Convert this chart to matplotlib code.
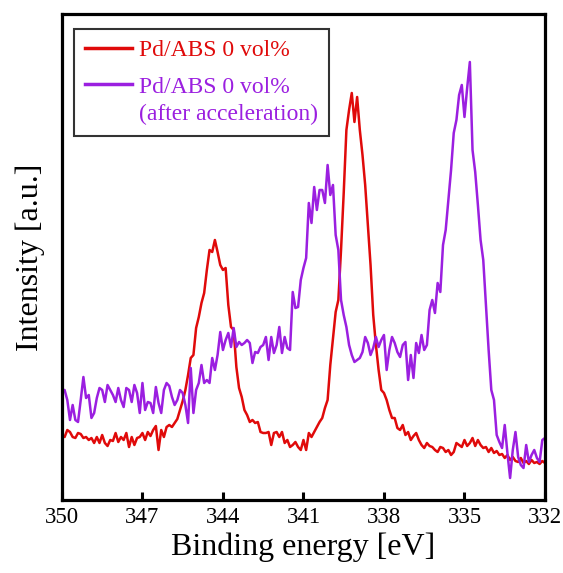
import numpy as np
import matplotlib
matplotlib.use('Agg')
import matplotlib.pyplot as plt
from matplotlib.legend_handler import HandlerLine2D

plt.rcParams['font.family'] = ['Liberation Serif', 'DejaVu Serif']

# binding energy grid, 350 -> 332 eV in 0.1 eV steps
energy = np.round(np.linspace(350.0, 332.0, 181), 2)

# Pd/ABS 0 vol% (arbitrary units)
red_counts = [
    65, 63, 70, 68, 63, 62, 67, 66, 62, 63,
    60, 62, 57, 63, 57, 65, 57, 54, 60, 59,
    67, 58, 63, 60, 67, 53, 63, 55, 62, 63,
    67, 60, 68, 64, 70, 74, 50, 70, 63, 73,
    75, 73, 77, 81, 90, 99, 110, 125, 142, 145,
    172, 183, 197, 207, 230, 250, 248, 260, 248, 235,
    230, 232, 195, 173, 170, 133, 112, 103, 90, 85,
    78, 80, 77, 78, 68, 67, 67, 68, 55, 67,
    68, 63, 68, 57, 60, 53, 55, 58, 53, 50,
    60, 50, 67, 63, 68, 73, 78, 82, 92, 100,
    135, 162, 188, 200, 250, 307, 370, 390, 407, 378,
    403, 370, 345, 315, 275, 235, 185, 155, 130, 110,
    107, 100, 90, 82, 82, 72, 70, 75, 65, 68,
    60, 64, 67, 60, 55, 52, 57, 54, 53, 50,
    48, 53, 52, 48, 50, 45, 48, 57, 55, 53,
    60, 54, 57, 62, 54, 60, 55, 52, 53, 48,
    52, 47, 49, 45, 46, 42, 45, 40, 43, 39,
    38, 42, 37, 39, 36, 40, 37, 38, 36, 39,
    37,
]

# Pd/ABS 0 vol% after acceleration
purple_counts = [
    110, 110, 100, 80, 95, 80, 78, 100, 123, 102,
    105, 82, 87, 102, 112, 110, 98, 115, 110, 105,
    98, 112, 100, 93, 112, 110, 98, 115, 107, 87,
    117, 90, 98, 97, 87, 113, 97, 87, 110, 117,
    114, 103, 95, 100, 110, 107, 95, 77, 132, 87,
    110, 117, 135, 117, 120, 117, 142, 130, 145, 168,
    150, 160, 167, 153, 172, 153, 158, 155, 157, 160,
    157, 137, 148, 147, 153, 155, 163, 140, 163, 147,
    155, 173, 147, 163, 152, 150, 208, 192, 193, 220,
    232, 242, 297, 277, 313, 290, 310, 310, 297, 335,
    305, 315, 265, 250, 200, 185, 173, 155, 145, 138,
    140, 142, 148, 163, 157, 145, 152, 163, 153, 160,
    165, 130, 150, 163, 157, 148, 143, 155, 158, 120,
    145, 122, 157, 147, 165, 150, 155, 190, 200, 187,
    217, 208, 255, 270, 300, 330, 367, 380, 405, 415,
    383, 412, 438, 350, 328, 295, 260, 240, 195, 150,
    110, 100, 65, 58, 52, 75, 47, 22, 50, 68,
    43, 35, 32, 55, 38, 45, 50, 42, 38, 60,
    62,
]

red = '#e00a0a'
purple = '#9b1fe0'


# puts the legend line next to the first line of a two-line label
class TopLineHandler(HandlerLine2D):
    def __init__(self, shift=0, **kw):
        super().__init__(**kw)
        self.shift = shift

    def create_artists(self, legend, orig_handle, xdescent, ydescent,
                       width, height, fontsize, trans):
        arts = super().create_artists(legend, orig_handle, xdescent, ydescent,
                                      width, height, fontsize, trans)
        for a in arts:
            a.set_ydata(np.asarray(a.get_ydata()) + self.shift)
        return arts


fig = plt.figure(figsize=(5.63, 5.73), dpi=100)
ax = fig.add_axes([0.110, 0.1274, 0.858, 0.8482])

l1, = ax.plot(energy, red_counts, color=red, lw=1.8, label='Pd/ABS 0 vol%')
l2, = ax.plot(energy, purple_counts, color=purple, lw=1.8,
              label='Pd/ABS 0 vol%\n(after acceleration)')

ax.set_xlim(350, 332)
ax.set_ylim(0, 486)
ax.set_xticks([350, 347, 344, 341, 338, 335, 332])
ax.set_yticks([])
ax.tick_params(axis='x', direction='in', length=6, width=2.2,
               labelsize=16.5, pad=5)
for s in ax.spines.values():
    s.set_linewidth(2.3)

ax.set_xlabel('Binding energy [eV]', fontsize=23, labelpad=3)
ax.set_ylabel('Intensity [a.u.]', fontsize=23, labelpad=12)

leg = ax.legend(handles=[l1, l2], loc='upper left',
                bbox_to_anchor=(0.025, 0.969),
                borderaxespad=0, fontsize=17, frameon=True, fancybox=False,
                handlelength=2.0, handletextpad=0.3, borderpad=0.45,
                labelspacing=0.65,
                handler_map={l2: TopLineHandler(shift=12)})
leg.get_frame().set_edgecolor('black')
leg.get_frame().set_linewidth(1.5)
for txt, c in zip(leg.get_texts(), [red, purple]):
    txt.set_color(c)
    txt.set_linespacing(1.4)
for line in leg.get_lines():
    line.set_linewidth(2.5)

fig.savefig('out.png', dpi=100)
